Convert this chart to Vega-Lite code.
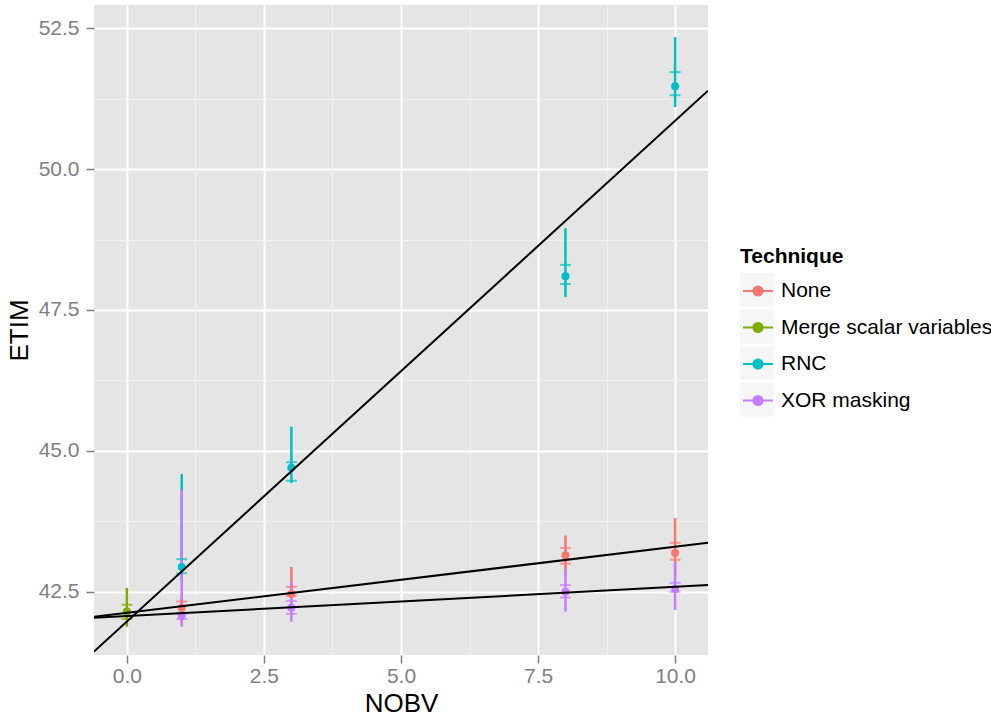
{
  "$schema": "https://vega.github.io/schema/vega-lite/v6.json",
  "width": 614,
  "height": 650,
  "autosize": {"type": "none"},
  "padding": {"left": 94, "top": 5, "right": 283, "bottom": 63},
  "background": "white",
  "config": {
    "view": {"fill": "#E5E5E5", "stroke": null},
    "axis": {
      "domain": false,
      "labelColor": "#7F7F7F",
      "labelFont": "Liberation Sans",
      "labelFontSize": 21,
      "tickColor": "#7F7F7F",
      "tickSize": 8,
      "tickWidth": 1.5,
      "titleFont": "Liberation Sans",
      "titleFontSize": 26,
      "titleFontWeight": "normal",
      "titleColor": "black",
      "gridColor": "#FFFFFF",
      "gridWidth": 2
    },
    "legend": {
      "orient": "none",
      "legendX": 646,
      "padding": 0,
      "titleFont": "Liberation Sans",
      "titleFontSize": 21,
      "titleFontWeight": "bold",
      "titleColor": "black",
      "titlePadding": 6,
      "labelFont": "Liberation Sans",
      "labelFontSize": 21,
      "labelColor": "black",
      "labelOffset": 5,
      "labelLimit": 0,
      "symbolSize": 1156
    }
  },
  "datasets": {
    "stats": [
      {"Technique": "None", "NOBV": 1, "mean": 42.22, "lo": 41.95, "hi": 42.45, "cl": 42.13, "ch": 42.33},
      {"Technique": "None", "NOBV": 3, "mean": 42.46, "lo": 42.25, "hi": 42.94, "cl": 42.43, "ch": 42.59},
      {"Technique": "None", "NOBV": 8, "mean": 43.15, "lo": 42.8, "hi": 43.5, "cl": 43.0, "ch": 43.28},
      {"Technique": "None", "NOBV": 10, "mean": 43.19, "lo": 42.75, "hi": 43.81, "cl": 43.07, "ch": 43.37},
      {"Technique": "Merge scalar variables", "NOBV": 0, "mean": 42.15, "lo": 41.88, "hi": 42.57, "cl": 42.02, "ch": 42.27},
      {"Technique": "RNC", "NOBV": 1, "mean": 42.94, "lo": 42.7, "hi": 44.59, "cl": 42.83, "ch": 43.08},
      {"Technique": "RNC", "NOBV": 3, "mean": 44.7, "lo": 44.43, "hi": 45.43, "cl": 44.47, "ch": 44.8},
      {"Technique": "RNC", "NOBV": 8, "mean": 48.1, "lo": 47.73, "hi": 48.95, "cl": 47.96, "ch": 48.3},
      {"Technique": "RNC", "NOBV": 10, "mean": 51.47, "lo": 51.1, "hi": 52.34, "cl": 51.31, "ch": 51.72},
      {"Technique": "XOR masking", "NOBV": 1, "mean": 42.08, "lo": 41.88, "hi": 44.31, "cl": 42.02, "ch": 42.12},
      {"Technique": "XOR masking", "NOBV": 3, "mean": 42.22, "lo": 41.97, "hi": 42.68, "cl": 42.11, "ch": 42.34},
      {"Technique": "XOR masking", "NOBV": 8, "mean": 42.5, "lo": 42.15, "hi": 42.9, "cl": 42.4, "ch": 42.62},
      {"Technique": "XOR masking", "NOBV": 10, "mean": 42.55, "lo": 42.18, "hi": 43.03, "cl": 42.5, "ch": 42.66}
    ],
    "fits": [
      {"Technique": "None", "NOBV": -0.6, "ETIM": 42.06},
      {"Technique": "None", "NOBV": 10.6, "ETIM": 43.37},
      {"Technique": "RNC", "NOBV": -0.6, "ETIM": 41.44},
      {"Technique": "RNC", "NOBV": 10.6, "ETIM": 51.39},
      {"Technique": "XOR masking", "NOBV": -0.6, "ETIM": 42.04},
      {"Technique": "XOR masking", "NOBV": 10.6, "ETIM": 42.62}
    ],
    "keys": [
      {"k": "a"}, {"k": "b"}, {"k": "c"}, {"k": "d"}
    ]
  },
  "resolve": {"axis": {"x": "independent", "y": "independent"}},
  "layer": [
    {
      "data": {"name": "keys"},
      "mark": {"type": "point", "filled": true, "size": 0, "color": "#F2F2F2"},
      "encoding": {
        "shape": {"field": "k", "type": "nominal",
                  "scale": {"range": ["square", "square", "square", "square"]},
                  "legend": {"title": null, "legendY": 268, "rowPadding": 2.5, "labelExpr": "''", "symbolStrokeWidth": 0,
                             "encode": {"symbols": {"update": {"fill": {"value": "#F2F2F2"}, "stroke": {"value": "transparent"}, "strokeWidth": {"value": 0}, "opacity": {"value": 1}}}}}}
      }
    },
    {
      "data": {"name": "stats"},
      "mark": {"type": "rule", "strokeWidth": 2.5},
      "encoding": {
        "x": {"field": "NOBV", "type": "quantitative",
              "scale": {"domain": [-0.6, 10.6], "nice": false, "zero": false},
              "axis": {"orient": "top", "values": [1.25, 3.75, 6.25, 8.75], "grid": true, "gridColor": "#F2F2F2", "gridWidth": 1, "labels": false, "ticks": false, "domain": false, "title": null}},
        "y": {"field": "lo", "type": "quantitative",
              "scale": {"domain": [41.38, 52.91], "nice": false, "zero": false},
              "axis": {"orient": "right", "values": [43.75, 46.25, 48.75, 51.25], "grid": true, "gridColor": "#F2F2F2", "gridWidth": 1, "labels": false, "ticks": false, "domain": false, "title": null}},
        "y2": {"field": "hi"},
        "color": {"field": "Technique", "type": "nominal",
                  "scale": {"domain": ["None", "Merge scalar variables", "RNC", "XOR masking"], "range": ["#F8766D", "#7CAE00", "#00BFC4", "#C77CFF"]},
                  "legend": {"title": "Technique", "legendY": 241, "rowPadding": 8.5,
                             "symbolType": "M-0.88,0L0.88,0M-0.27,0A0.27,0.27,0,1,0,0.27,0A0.27,0.27,0,1,0,-0.27,0Z",
                             "encode": {"symbols": {"update": {"fill": {"scale": "color", "field": "value"}, "stroke": {"scale": "color", "field": "value"}, "strokeWidth": {"value": 2}, "opacity": {"value": 1}}}}}}
      }
    },
    {
      "data": {"name": "stats"},
      "mark": {"type": "tick", "orient": "horizontal", "size": 11, "thickness": 2},
      "encoding": {
        "x": {"field": "NOBV", "type": "quantitative", "scale": {"domain": [-0.6, 10.6], "nice": false, "zero": false}, "axis": null},
        "y": {"field": "cl", "type": "quantitative", "scale": {"domain": [41.38, 52.91], "nice": false, "zero": false}, "axis": null},
        "color": {"field": "Technique", "type": "nominal"}
      }
    },
    {
      "data": {"name": "stats"},
      "mark": {"type": "tick", "orient": "horizontal", "size": 11, "thickness": 2},
      "encoding": {
        "x": {"field": "NOBV", "type": "quantitative", "scale": {"domain": [-0.6, 10.6], "nice": false, "zero": false}, "axis": null},
        "y": {"field": "ch", "type": "quantitative", "scale": {"domain": [41.38, 52.91], "nice": false, "zero": false}, "axis": null},
        "color": {"field": "Technique", "type": "nominal"}
      }
    },
    {
      "data": {"name": "stats"},
      "mark": {"type": "point", "filled": true, "opacity": 1, "size": 64},
      "encoding": {
        "x": {"field": "NOBV", "type": "quantitative", "title": "NOBV",
              "scale": {"domain": [-0.6, 10.6], "nice": false, "zero": false},
              "axis": {"orient": "bottom", "values": [0, 2.5, 5, 7.5, 10], "format": ".1f", "grid": true, "labelPadding": 2, "titlePadding": 4}},
        "y": {"field": "mean", "type": "quantitative", "title": "ETIM",
              "scale": {"domain": [41.38, 52.91], "nice": false, "zero": false},
              "axis": {"orient": "left", "values": [42.5, 45, 47.5, 50, 52.5], "format": ".1f", "grid": true, "labelPadding": 7, "titlePadding": 6}},
        "color": {"field": "Technique", "type": "nominal"}
      }
    },
    {
      "data": {"name": "fits"},
      "mark": {"type": "line", "color": "black", "strokeWidth": 2, "clip": true},
      "encoding": {
        "x": {"field": "NOBV", "type": "quantitative", "scale": {"domain": [-0.6, 10.6], "nice": false, "zero": false}, "axis": null},
        "y": {"field": "ETIM", "type": "quantitative", "scale": {"domain": [41.38, 52.91], "nice": false, "zero": false}, "axis": null},
        "detail": {"field": "Technique", "type": "nominal"}
      }
    }
  ]
}
